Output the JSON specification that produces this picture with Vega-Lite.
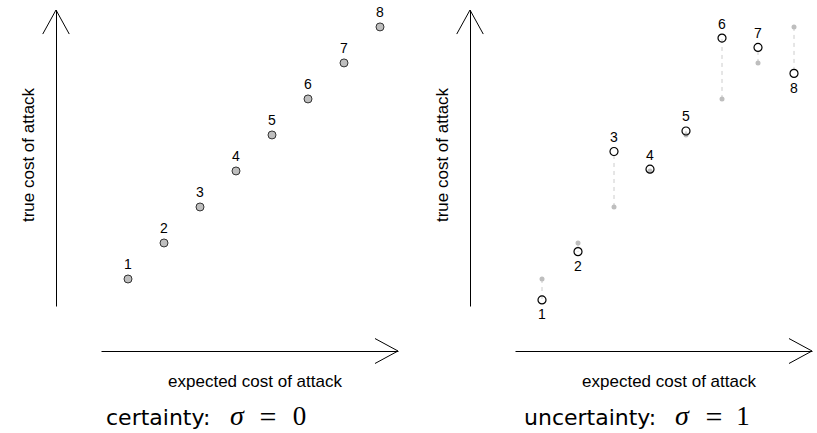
{
  "$schema": "https://vega.github.io/schema/vega-lite/v6.json",
  "background": "white",
  "padding": {"left": 19, "top": 5, "right": 0, "bottom": 0},
  "bounds": "flush",
  "spacing": 117,
  "datasets": {
    "costs": [
      {"id": 1, "expected": 1, "certain": 1, "uncertain": 0.42},
      {"id": 2, "expected": 2, "certain": 2, "uncertain": 1.76},
      {"id": 3, "expected": 3, "certain": 3, "uncertain": 4.54},
      {"id": 4, "expected": 4, "certain": 4, "uncertain": 4.05},
      {"id": 5, "expected": 5, "certain": 5, "uncertain": 5.11},
      {"id": 6, "expected": 6, "certain": 6, "uncertain": 7.69},
      {"id": 7, "expected": 7, "certain": 7, "uncertain": 7.43},
      {"id": 8, "expected": 8, "certain": 8, "uncertain": 6.71}
    ],
    "one": [{"n": 1}]
  },
  "hconcat": [
    {
      "width": 297,
      "height": 296,
      "layer": [
        {
          "data": {"name": "costs"},
          "mark": {"type": "circle", "size": 64, "fill": "#bebebe", "stroke": "#333333", "strokeWidth": 1, "opacity": 1},
          "encoding": {
            "x": {
              "field": "expected", "type": "quantitative",
              "scale": {"domain": [0.25, 8.5], "nice": false, "zero": false},
              "axis": {"title": "expected cost of attack", "offset": 45, "titleX": 153.5, "titleY": 35.5, "titleBaseline": "alphabetic"}
            },
            "y": {
              "field": "certain", "type": "quantitative",
              "scale": {"domain": [0.25, 8.47], "nice": false, "zero": false},
              "axis": {"title": "true cost of attack", "offset": 45, "titleX": -23, "titleY": 144.5, "titleBaseline": "alphabetic"}
            }
          }
        },
        {
          "data": {"name": "costs"},
          "mark": {"type": "text", "dy": -10, "fontSize": 14, "font": "Liberation Sans", "baseline": "alphabetic", "color": "black"},
          "encoding": {
            "x": {"field": "expected", "type": "quantitative"},
            "y": {"field": "certain", "type": "quantitative"},
            "text": {"field": "id", "type": "nominal"}
          }
        },
        {
          "data": {"name": "one"},
          "mark": {"type": "point", "clip": false, "shape": "M-1.02,1.85L0,0L1.02,1.85", "size": 676, "filled": false, "color": "black", "strokeWidth": 1, "opacity": 1},
          "encoding": {"x": {"datum": -1.0, "type": "quantitative"}, "y": {"datum": 8.47, "type": "quantitative"}}
        },
        {
          "data": {"name": "one"},
          "mark": {"type": "point", "clip": false, "shape": "M-1.77,-0.96L0,0L-1.77,0.96", "size": 676, "filled": false, "color": "black", "strokeWidth": 1, "opacity": 1},
          "encoding": {"x": {"datum": 8.5, "type": "quantitative"}, "y": {"datum": -1.0, "type": "quantitative"}}
        },
        {
          "data": {"name": "one"},
          "mark": {"type": "text", "clip": false, "text": "certainty:", "font": "DejaVu Sans", "fontSize": 22, "align": "left", "baseline": "alphabetic", "color": "black"},
          "encoding": {"x": {"datum": 0.389, "type": "quantitative"}, "y": {"datum": -3.056, "type": "quantitative"}}
        },
        {
          "data": {"name": "one"},
          "mark": {"type": "text", "clip": false, "text": "σ", "font": "Liberation Serif", "fontStyle": "italic", "fontSize": 28, "align": "left", "baseline": "alphabetic", "color": "black"},
          "encoding": {"x": {"datum": 3.833, "type": "quantitative"}, "y": {"datum": -3.056, "type": "quantitative"}}
        },
        {
          "data": {"name": "one"},
          "mark": {"type": "text", "clip": false, "text": "=", "font": "Liberation Serif", "fontSize": 30, "align": "center", "baseline": "alphabetic", "color": "black"},
          "encoding": {"x": {"datum": 4.889, "type": "quantitative"}, "y": {"datum": -3.117, "type": "quantitative"}}
        },
        {
          "data": {"name": "one"},
          "mark": {"type": "text", "clip": false, "text": "0", "font": "Liberation Serif", "fontSize": 27, "align": "center", "baseline": "alphabetic", "color": "black"},
          "encoding": {"x": {"datum": 5.764, "type": "quantitative"}, "y": {"datum": -3.056, "type": "quantitative"}}
        }
      ]
    },
    {
      "width": 297,
      "height": 296,
      "layer": [
        {
          "data": {"name": "costs"},
          "mark": {"type": "rule", "color": "#cccccc", "strokeWidth": 1, "strokeDash": [4, 4]},
          "encoding": {
            "x": {
              "field": "expected", "type": "quantitative",
              "scale": {"domain": [0.25, 8.5], "nice": false, "zero": false},
              "axis": {"title": "expected cost of attack", "offset": 45, "titleX": 153.5, "titleY": 35.5, "titleBaseline": "alphabetic"}
            },
            "y": {
              "field": "certain", "type": "quantitative",
              "scale": {"domain": [0.25, 8.47], "nice": false, "zero": false},
              "axis": {"title": "true cost of attack", "offset": 45, "titleX": -23, "titleY": 144.5, "titleBaseline": "alphabetic"}
            },
            "y2": {"field": "uncertain"}
          }
        },
        {
          "data": {"name": "costs"},
          "mark": {"type": "circle", "size": 25, "color": "#bebebe", "opacity": 1},
          "encoding": {
            "x": {"field": "expected", "type": "quantitative"},
            "y": {"field": "certain", "type": "quantitative"}
          }
        },
        {
          "data": {"name": "costs"},
          "mark": {"type": "circle", "size": 64, "fill": null, "fillOpacity": 0, "stroke": "black", "strokeWidth": 1.2, "opacity": 1},
          "encoding": {
            "x": {"field": "expected", "type": "quantitative"},
            "y": {"field": "uncertain", "type": "quantitative"}
          }
        },
        {
          "data": {"name": "costs"},
          "transform": [{"filter": "datum.uncertain >= datum.certain"}],
          "mark": {"type": "text", "dy": -9.5, "fontSize": 14, "font": "Liberation Sans", "baseline": "alphabetic", "color": "black"},
          "encoding": {
            "x": {"field": "expected", "type": "quantitative"},
            "y": {"field": "uncertain", "type": "quantitative"},
            "text": {"field": "id", "type": "nominal"}
          }
        },
        {
          "data": {"name": "costs"},
          "transform": [{"filter": "datum.uncertain < datum.certain"}],
          "mark": {"type": "text", "dy": 19.5, "fontSize": 14, "font": "Liberation Sans", "baseline": "alphabetic", "color": "black"},
          "encoding": {
            "x": {"field": "expected", "type": "quantitative"},
            "y": {"field": "uncertain", "type": "quantitative"},
            "text": {"field": "id", "type": "nominal"}
          }
        },
        {
          "data": {"name": "one"},
          "mark": {"type": "point", "clip": false, "shape": "M-1.02,1.85L0,0L1.02,1.85", "size": 676, "filled": false, "color": "black", "strokeWidth": 1, "opacity": 1},
          "encoding": {"x": {"datum": -1.0, "type": "quantitative"}, "y": {"datum": 8.47, "type": "quantitative"}}
        },
        {
          "data": {"name": "one"},
          "mark": {"type": "point", "clip": false, "shape": "M-1.77,-0.96L0,0L-1.77,0.96", "size": 676, "filled": false, "color": "black", "strokeWidth": 1, "opacity": 1},
          "encoding": {"x": {"datum": 8.5, "type": "quantitative"}, "y": {"datum": -1.0, "type": "quantitative"}}
        },
        {
          "data": {"name": "one"},
          "mark": {"type": "text", "clip": false, "text": "uncertainty:", "font": "DejaVu Sans", "fontSize": 22, "align": "left", "baseline": "alphabetic", "color": "black"},
          "encoding": {"x": {"datum": 0.5, "type": "quantitative"}, "y": {"datum": -3.056, "type": "quantitative"}}
        },
        {
          "data": {"name": "one"},
          "mark": {"type": "text", "clip": false, "text": "σ", "font": "Liberation Serif", "fontStyle": "italic", "fontSize": 28, "align": "left", "baseline": "alphabetic", "color": "black"},
          "encoding": {"x": {"datum": 4.694, "type": "quantitative"}, "y": {"datum": -3.056, "type": "quantitative"}}
        },
        {
          "data": {"name": "one"},
          "mark": {"type": "text", "clip": false, "text": "=", "font": "Liberation Serif", "fontSize": 30, "align": "center", "baseline": "alphabetic", "color": "black"},
          "encoding": {"x": {"datum": 5.778, "type": "quantitative"}, "y": {"datum": -3.117, "type": "quantitative"}}
        },
        {
          "data": {"name": "one"},
          "mark": {"type": "text", "clip": false, "text": "1", "font": "Liberation Serif", "fontSize": 27, "align": "center", "baseline": "alphabetic", "color": "black"},
          "encoding": {"x": {"datum": 6.583, "type": "quantitative"}, "y": {"datum": -3.056, "type": "quantitative"}}
        }
      ]
    }
  ],
  "config": {
    "view": {"stroke": null},
    "axis": {
      "grid": false, "ticks": false, "labels": false,
      "domainColor": "black", "domainWidth": 1,
      "titleFont": "Liberation Sans", "titleFontSize": 17, "titleFontWeight": "normal", "titleColor": "black"
    }
  }
}
